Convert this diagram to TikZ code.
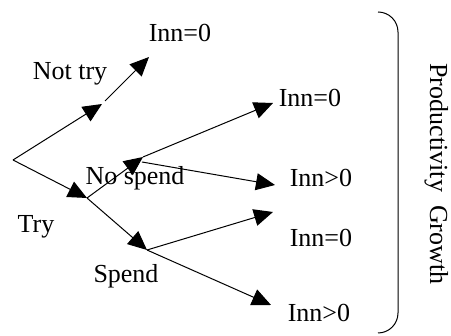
\documentclass[tikz,border=0pt]{standalone}
\usepackage{fontspec}
\setmainfont{Liberation Serif}
\usetikzlibrary{arrows.meta}
\begin{document}
\begin{tikzpicture}[x=1pt,y=-1pt,
  conn/.style={line width=1pt,-{Triangle[length=19pt,width=17pt]}},
  lbl/.style={anchor=base,inner sep=0pt,font=\fontsize{26}{30}\selectfont}]
\useasboundingbox (0,0) rectangle (451,336);
% branch points
\coordinate (r) at (13,160);
\coordinate (a1) at (102,104);
\coordinate (a2) at (105,101);
\coordinate (t1) at (149,57);
\coordinate (b) at (87,198);
\coordinate (c) at (143,157);
\coordinate (c2) at (142,162);
\coordinate (t2) at (273,103);
\coordinate (t3) at (275,185);
\coordinate (d) at (147,250);
\coordinate (t4) at (273,212);
\coordinate (t5) at (271,305);
% connectors
\draw[conn] (r) -- (a1);
\draw[conn] (a2) -- (t1);
\draw[conn] (r) -- (b);
\draw[conn] (b) -- (c);
\draw[conn] (c) -- (t2);
\draw[conn] (c2) -- (t3);
\draw[conn] (b) -- (d);
\draw[conn] (d) -- (t4);
\draw[conn] (d) -- (t5);
% labels
\node[lbl] (l1) at (180,42) {Inn=0};
\node[lbl] (l2) at (70,80) {Not try};
\node[lbl] (l3) at (310,107) {Inn=0};
\node[lbl] (l4) at (321,187) {Inn>0};
\node[lbl] (l5) at (321,247) {Inn=0};
\node[lbl] (l6) at (319,322) {Inn>0};
\node[lbl] (l7) at (135,185) {No spend};
\node[lbl] (l8) at (36,233) {Try};
\node[lbl] (l9) at (126,283) {Spend};
% bracket
\draw[line width=1pt] (378,12) arc[start angle=-90,end angle=0,radius=20] -- (398,313) arc[start angle=0,end angle=90,radius=20];
% rotated label
\node[anchor=base,inner sep=0pt,font=\fontsize{26}{30}\selectfont,rotate=-90] (pg) at (430,174) {Productivity\ \ Growth};
\end{tikzpicture}
\end{document}
